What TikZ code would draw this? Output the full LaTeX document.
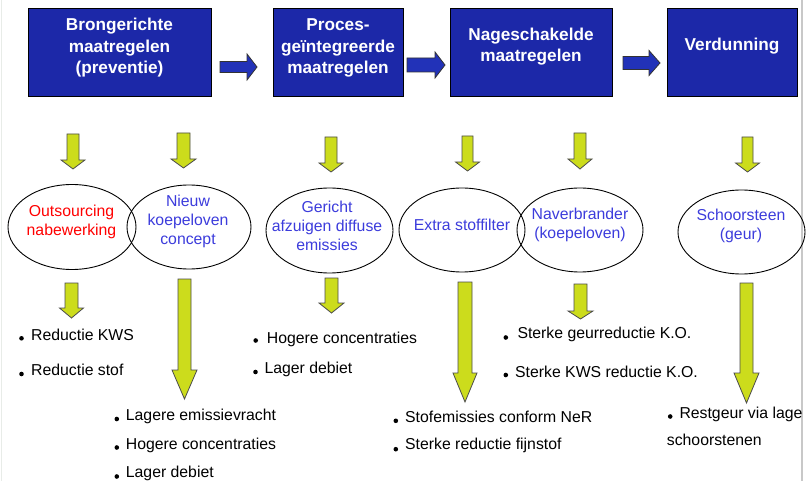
\documentclass[tikz,border=0pt]{standalone}
\usepackage{fontspec}
\setmainfont{Liberation Sans}
\usetikzlibrary{shapes.geometric}
\definecolor{boxblue}{RGB}{28,40,168}
\definecolor{arrblue}{RGB}{34,50,184}
\definecolor{lime}{RGB}{204,220,28}
\definecolor{txtblue}{RGB}{60,60,220}
\definecolor{edgegray}{RGB}{200,200,200}
\definecolor{faintgray}{RGB}{232,236,232}
\newcommand\greenarrow[6]{% xc, ytop, yheadstart, ytip, half body, half head
  \draw[garrow] (#1-#5,#2) -- (#1+#5,#2) -- (#1+#5,#3) -- (#1+#6,#3) -- (#1,#4)
    -- (#1-#6,#3) -- (#1-#5,#3) -- cycle;}
\newcommand\bluearrow[6]{% x0, xheadstart, xtip, yc, half body, half head
  \draw[barrow] (#1,#4-#5) -- (#2,#4-#5) -- (#2,#4-#6) -- (#3,#4) -- (#2,#4+#6)
    -- (#2,#4+#5) -- (#1,#4+#5) -- cycle;}
\begin{document}
\begin{tikzpicture}[x=1pt,y=-1pt,
  tbox/.style={draw=black, line width=1pt, fill=boxblue, inner sep=0pt},
  ttext/.style={text=white, font=\fontsize{17.2}{21.5}\selectfont\bfseries, align=center, inner sep=0pt},
  oval/.style={ellipse, draw=black, line width=0.9pt, inner sep=0pt},
  otext/.style={font=\fontsize{15.8}{19}\selectfont, align=center, inner sep=0pt, text=txtblue},
  btext/.style={font=\fontsize{15.8}{19}\selectfont, anchor=west, inner sep=0pt},
  bdot/.style={circle, fill=black, inner sep=0pt, minimum size=4.6pt},
  garrow/.style={fill=lime, draw=black!70, line width=0.8pt, line join=miter},
  barrow/.style={fill=arrblue, draw=black!80, line width=0.8pt, line join=miter},
]
\useasboundingbox (0,0) rectangle (806,481);
\fill[white] (0,0) rectangle (806,481);
\draw[faintgray, line width=1.2pt] (1.5,0) -- (1.5,481);
\draw[edgegray, line width=1.5pt] (802,0) -- (802,481);

% title boxes
\node[tbox, minimum width=183, minimum height=88] (b1) at (119.5,53) {};
\node[tbox, minimum width=130, minimum height=88] (b2) at (338,53) {};
\node[tbox, minimum width=162, minimum height=88] (b3) at (531,53) {};
\node[tbox, minimum width=130, minimum height=88] (b4) at (732,53) {};
\node[ttext] (t1) at (119.5,48) {Brongerichte\\maatregelen\\(preventie)};
\node[ttext] (t2) at (338,48) {Proces-\\geïntegreerde\\maatregelen};
\node[ttext] (t3) at (531,46.5) {Nageschakelde\\maatregelen};
\node[ttext] (t4) at (732,46) {Verdunning};

% blue arrows between boxes
\bluearrow{220}{247}{257}{67}{5.5}{13}
\bluearrow{407}{435}{445}{65}{7}{13}
\bluearrow{623}{649}{660}{63}{6.5}{12.5}

% green arrows, upper row
\greenarrow{73}{134}{160}{169}{6}{12}
\greenarrow{183.5}{133}{159}{168}{6.5}{12.5}
\greenarrow{331}{137}{163}{172}{6}{12}
\greenarrow{467.5}{136}{162}{171}{5.5}{12}
\greenarrow{580}{133}{159}{169}{6}{12}
\greenarrow{747.5}{137}{163}{172}{5.5}{12}

% ellipses
\node[oval, minimum width=128, minimum height=85] (e1) at (72,227) {};
\node[oval, minimum width=124, minimum height=84] (e2) at (189,227) {};
\node[oval, minimum width=127, minimum height=85] (e3) at (329.5,230.5) {};
\node[oval, minimum width=126, minimum height=84] (e4) at (462,230) {};
\node[oval, minimum width=126, minimum height=84] (e5) at (580,230) {};
\node[oval, minimum width=127, minimum height=84] (e6) at (741.5,232) {};
\node[otext, text=red] (o1) at (71.5,222) {Outsourcing\\nabewerking};
\node[otext] (o2) at (188,221) {Nieuw\\koepeloven\\concept};
\node[otext] (o3) at (327,226) {Gericht\\afzuigen diffuse\\emissies};
\node[otext] (o4) at (462,225) {Extra stoffilter};
\node[otext] (o5) at (580,224.5) {Naverbrander\\(koepeloven)};
\node[otext] (o6) at (741,226) {Schoorsteen\\(geur)};

% green arrows, lower row
\greenarrow{71.5}{283}{308}{318}{6.5}{12}
\greenarrow{184.5}{279}{370}{399}{6.5}{12.5}
\greenarrow{331.5}{278}{303}{313}{6.5}{12.5}
\greenarrow{465}{282}{373}{402}{7}{12}
\greenarrow{580.5}{284}{311}{319}{6.5}{12.5}
\greenarrow{746.5}{283}{373}{403}{6.5}{12.5}

% bullet lists
\node[bdot] (d1) at (21.5,338.3) {};
\node[btext] (l1) at (31,334.5) {Reductie KWS};
\node[bdot] (d2) at (21.5,374) {};
\node[btext] (l2) at (31,370) {Reductie stof};

\node[bdot] (d3) at (255.7,340.5) {};
\node[btext] (l3) at (266.7,339.5) {Hogere concentraties};
\node[bdot] (d4) at (255.5,372) {};
\node[btext] (l4) at (264.3,369.7) {Lager debiet};

\node[bdot] (d5) at (116.8,419) {};
\node[btext] (l5) at (125.7,416) {Lagere emissievracht};
\node[bdot] (d6) at (116.8,447.5) {};
\node[btext] (l6) at (125.7,445) {Hogere concentraties};
\node[bdot] (d7) at (116.8,476.5) {};
\node[btext] (l7) at (125.7,473.3) {Lager debiet};

\node[bdot] (d8) at (505.8,337.5) {};
\node[btext] (l8) at (517.3,334) {Sterke geurreductie K.O.};
\node[bdot] (d9) at (505.8,375) {};
\node[btext] (l9) at (515,371.7) {Sterke KWS reductie K.O.};

\node[bdot] (d10) at (395.8,420.8) {};
\node[btext] (l10) at (405,417) {Stofemissies conform NeR};
\node[bdot] (d11) at (395.8,449.2) {};
\node[btext] (l11) at (405,445.8) {Sterke reductie fijnstof};

\node[bdot] (d12) at (670.2,416.5) {};
\node[btext] (l12) at (679.3,414) {Restgeur via lage};
\node[btext] (l13) at (666.7,440) {schoorstenen};
\end{tikzpicture}
\end{document}
